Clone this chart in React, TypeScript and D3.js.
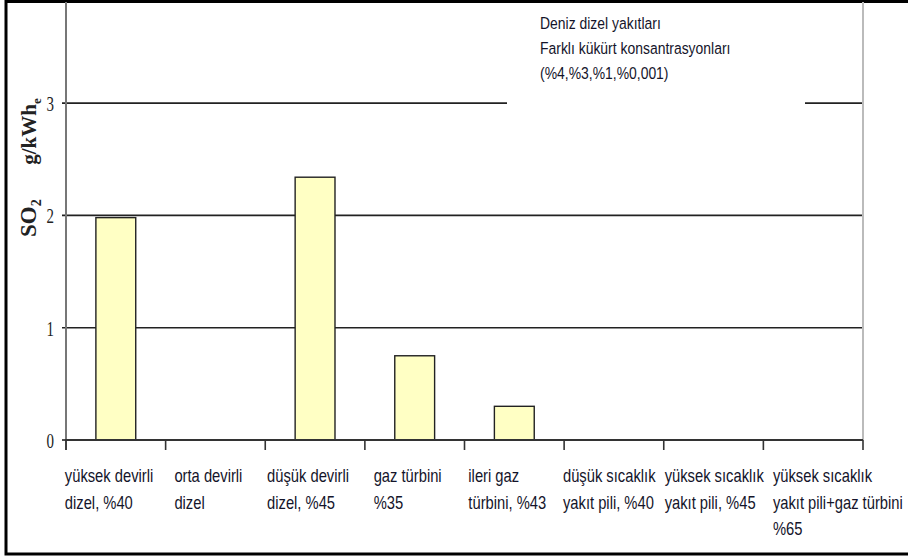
import React, { useEffect, useRef } from 'react';
import * as d3 from 'd3';

const categories = [
  ['yüksek devirli', 'dizel, %40'],
  ['orta devirli', 'dizel'],
  ['düşük devirli', 'dizel, %45'],
  ['gaz türbini', '%35'],
  ['ileri gaz', 'türbini, %43'],
  ['düşük sıcaklık', 'yakıt pili, %40'],
  ['yüksek sıcaklık', 'yakıt pili, %45'],
  ['yüksek sıcaklık', 'yakıt pili+gaz türbini', '%65'],
];
const so2Values = [1.98, 0, 2.34, 0.75, 0.3, 0, 0, 0];
const yTicks = [0, 1, 2, 3];
const noteLines = ['Deniz dizel yakıtları', 'Farklı kükürt konsantrasyonları', '(%4,%3,%1,%0,001)'];

const W = 908;
const H = 558;
const FONT = "'Liberation Sans', Arial, sans-serif";
const SERIF = "'Liberation Serif', 'Times New Roman', serif";
const NARROW = 0.82; // no Arial Narrow here, squeeze Arial instead

export default function App() {
  const svgRef = useRef<SVGSVGElement>(null);

  useEffect(() => {
    const svg = d3.select(svgRef.current);
    svg.selectAll('*').remove();

    const left = 66;
    const right = 863;
    const bottom = 440;
    const top = 2;

    const ids = categories.map((_, i) => String(i));
    const x = d3.scaleBand().domain(ids).range([left, right]).paddingInner(0.6).paddingOuter(0.3);
    const y = d3.scaleLinear().domain([0, 3.9]).range([bottom, top]);
    const step = x.step();

    // frame
    svg.append('rect')
      .attr('x', 6).attr('y', 1.5).attr('width', W + 10).attr('height', 552.5)
      .attr('fill', 'white').attr('stroke', '#000').attr('stroke-width', 3);

    // gridlines
    svg.append('g').selectAll('line').data(yTicks.filter((d) => d > 0)).join('line')
      .attr('x1', left - 4).attr('x2', right)
      .attr('y1', (d) => y(d)).attr('y2', (d) => y(d))
      .attr('stroke', '#222').attr('stroke-width', 1.6);

    // y axis + plot right edge
    svg.append('line').attr('x1', left).attr('x2', left).attr('y1', top).attr('y2', bottom + 10)
      .attr('stroke', '#777').attr('stroke-width', 2);
    svg.append('line').attr('x1', right).attr('x2', right).attr('y1', top).attr('y2', bottom)
      .attr('stroke', '#bbb').attr('stroke-width', 2);

    // y tick labels (tall, narrow serif digits)
    svg.append('g').selectAll('text').data(yTicks).join('text')
      .attr('transform', (d) => `translate(54,${y(d)}) scale(0.68,1)`)
      .attr('dy', '0.36em')
      .attr('text-anchor', 'end')
      .style('font-family', SERIF)
      .style('font-size', '22px').attr('fill', '#222')
      .text((d) => d);
    svg.append('line').attr('x1', left - 4).attr('x2', left).attr('y1', bottom).attr('y2', bottom)
      .attr('stroke', '#222').attr('stroke-width', 1.6);

    // bars
    svg.append('g').selectAll('rect').data(so2Values.map((v, i) => ({ v, i })).filter((d) => d.v > 0)).join('rect')
      .attr('x', (d) => x(String(d.i))!)
      .attr('y', (d) => y(d.v))
      .attr('width', x.bandwidth())
      .attr('height', (d) => bottom - y(d.v))
      .attr('fill', '#ffffc4')
      .attr('stroke', '#222').attr('stroke-width', 1.4);

    // x axis
    svg.append('line').attr('x1', left).attr('x2', right).attr('y1', bottom).attr('y2', bottom)
      .attr('stroke', '#333').attr('stroke-width', 2);
    const bounds = ids.map((id) => x(id)! + x.bandwidth() / 2 - step / 2).concat([right]);
    svg.append('g').selectAll('line').data(bounds).join('line')
      .attr('x1', (d) => d).attr('x2', (d) => d)
      .attr('y1', bottom).attr('y2', bottom + 10)
      .attr('stroke', '#333').attr('stroke-width', 1.6);

    // category labels: block centred on the band, but never touching the previous one
    const labels = svg.append('g')
      .style('font-family', FONT).style('font-size', '18px').attr('fill', '#14142a');
    let prevEnd = -Infinity;
    categories.forEach((lines, i) => {
      const t = labels.append('text');
      lines.forEach((ln, k) => {
        t.append('tspan').attr('x', 0).attr('y', 476 + k * 26.5).attr('dy', '0.36em').text(ln);
      });
      const widths = t.selectAll<SVGTSpanElement, unknown>('tspan').nodes().map((n) => n.getComputedTextLength());
      const wFull = (d3.max(widths) || 0) * NARROW;
      const w = Math.min(wFull, 88);
      const cx = x(String(i))! + x.bandwidth() / 2;
      const lx = Math.max(cx - w / 2 - 7, prevEnd + 9);
      prevEnd = lx + wFull;
      t.attr('transform', `translate(${lx},0) scale(${NARROW},1)`);
    });

    // note box
    svg.append('rect').attr('x', 507).attr('y', 5).attr('width', 298).attr('height', 106).attr('fill', 'white');
    svg.append('g').selectAll('text').data(noteLines).join('text')
      .attr('transform', (d, i) => `translate(540,${23 + i * 25}) scale(${NARROW},1)`)
      .attr('dy', '0.36em')
      .style('font-family', FONT).style('font-size', '17px').attr('fill', '#14142a')
      .text((d) => d);

    // y title
    const title = svg.append('text')
      .attr('transform', 'translate(36,237) rotate(-90)')
      .attr('text-anchor', 'start')
      .style('font-family', SERIF)
      .style('font-size', '23px').style('font-weight', 'bold').attr('fill', '#222');
    title.append('tspan').text('SO');
    title.append('tspan').attr('dy', 5).style('font-size', '14px').text('2');
    title.append('tspan').attr('dy', -5).text('\u00a0\u00a0\u00a0\u00a0\u00a0\u00a0');
    title.append('tspan').style('font-size', '21px').text('g/kWh');
    title.append('tspan').attr('dy', 5).style('font-size', '13px').text('e');
  }, []);

  return (
    <svg ref={svgRef} width={W} height={H}
      style={{ position: 'absolute', left: 0, top: 0, background: 'white' }} />
  );
}
